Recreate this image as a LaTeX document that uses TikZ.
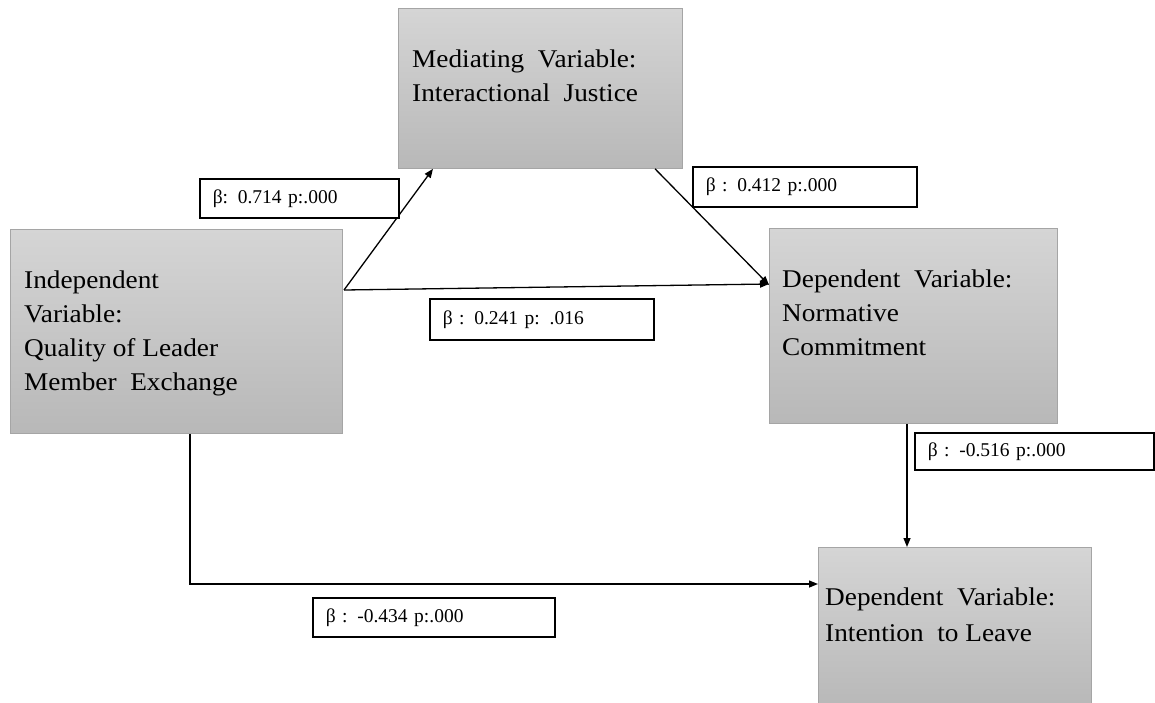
\documentclass[tikz,border=0pt]{standalone}
\usepackage{fontspec}
\setmainfont{Liberation Serif}[FakeStretch=1.07]
\newfontfamily\labfont{Liberation Serif}
\usetikzlibrary{arrows.meta,calc}
\definecolor{boxtop}{RGB}{213,213,213}
\definecolor{boxbot}{RGB}{184,184,184}
\definecolor{boxline}{RGB}{165,165,165}
\begin{document}
\begin{tikzpicture}[x=1pt,y=-1pt,
  vbox/.style={draw=boxline, line width=0.8pt, top color=boxtop, bottom color=boxbot, anchor=north west, inner sep=0pt},
  vtext/.style={anchor=north west, inner sep=0pt, align=left, font=\fontsize{25.5}{34}\selectfont},
  coef/.style={draw=black, line width=1.5pt, fill=white, anchor=north west, inner xsep=13pt, inner ysep=0pt, align=left, font=\labfont\fontsize{19.5}{22}\selectfont},
  link/.style={line width=1.3pt, -{Triangle[length=9pt,width=7pt]}}]
\useasboundingbox (0,0) rectangle (1155,702);

% variable boxes
\node[vbox, minimum width=332pt, minimum height=204pt] (ind) at (10,229) {};
\node[vbox, minimum width=284pt, minimum height=160pt] (med) at (398,8) {};
\node[vbox, minimum width=288pt, minimum height=195pt] (nor) at (769,228) {};
\node[vbox, minimum width=273pt, minimum height=160pt] (int) at (818,547) {};

% texts of the boxes
\node[vtext] (indt) at (24,270.6) {Independent\\Variable:\\Quality of Leader\\Member\ \ Exchange};
\node[vtext] (medt) at (412,49.6) {Mediating\ \ Variable:\\Interactional\ \ Justice};
\node[vtext] (nort) at (782,269.6) {Dependent\ \ Variable:\\Normative\\Commitment};
\node[vtext, font=\fontsize{25.5}{36}\selectfont] (intt) at (825,587.6) {Dependent\ \ Variable:\\Intention\ \ to Leave};

% connectors
\coordinate (src) at (344,290);
\draw[link] (src) -- ($(med.south west)+(35,0)$);
\draw[link] (src) -- ($(nor.north west)+(0,56)$);
\draw[link] ($(med.south west)+(257,0)$) -- ($(nor.north west)+(0,57)$);
\draw[link] ($(nor.south west)+(138,0)$) -- ($(int.north west)+(89,0)$);
\draw[link] ($(ind.south west)+(180,0)$) |- ($(int.north west)+(0,37)$);

% coefficient labels
\node[coef, minimum height=39pt, text width=173pt] (c1) at (199,178) {β: 0.714 p:.000};
\node[coef, minimum height=40pt, text width=198pt] (c2) at (692,166) {β : 0.412 p:.000};
\node[coef, minimum height=41pt, text width=198pt] (c3) at (429,298) {β : 0.241 p: .016};
\node[coef, minimum height=37pt, text width=213pt] (c4) at (914,432) {β : -0.516 p:.000};
\node[coef, minimum height=39pt, text width=216pt] (c5) at (312,597) {β : -0.434 p:.000};
\end{tikzpicture}
\end{document}
